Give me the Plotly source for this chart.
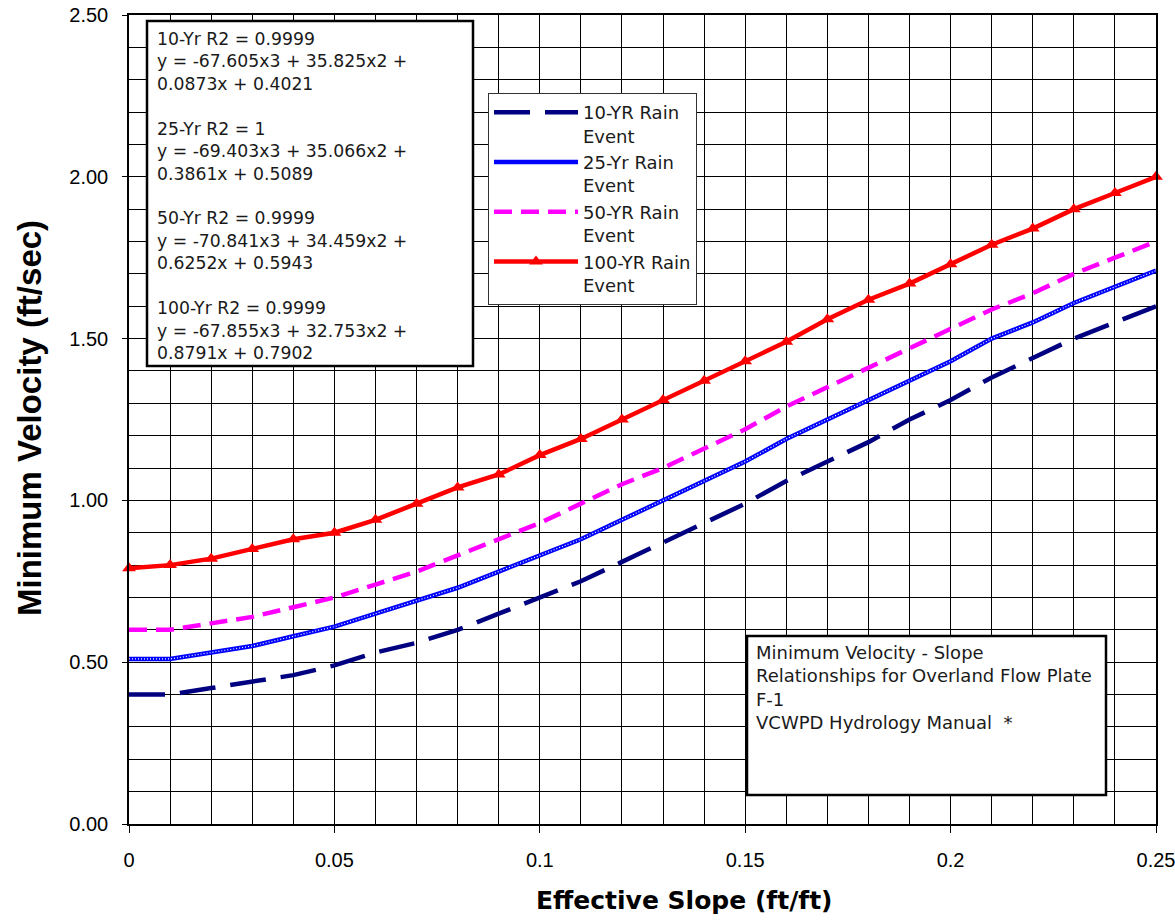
import plotly.graph_objects as go

# ---------------- data ----------------
slope = [0.00, 0.01, 0.02, 0.03, 0.04, 0.05, 0.06, 0.07, 0.08, 0.09, 0.10, 0.11, 0.12,
         0.13, 0.14, 0.15, 0.16, 0.17, 0.18, 0.19, 0.20, 0.21, 0.22, 0.23, 0.24, 0.25]
v10 = [0.40, 0.40, 0.42, 0.44, 0.46, 0.49, 0.53, 0.56, 0.60, 0.65, 0.70, 0.75, 0.81,
       0.87, 0.93, 0.99, 1.06, 1.12, 1.18, 1.25, 1.31, 1.38, 1.44, 1.50, 1.55, 1.60]
v25 = [0.51, 0.51, 0.53, 0.55, 0.58, 0.61, 0.65, 0.69, 0.73, 0.78, 0.83, 0.88, 0.94,
       1.00, 1.06, 1.12, 1.19, 1.25, 1.31, 1.37, 1.43, 1.50, 1.55, 1.61, 1.66, 1.71]
v50 = [0.60, 0.60, 0.62, 0.64, 0.67, 0.70, 0.74, 0.78, 0.83, 0.88, 0.93, 0.99, 1.05,
       1.10, 1.16, 1.22, 1.29, 1.35, 1.41, 1.47, 1.53, 1.59, 1.64, 1.70, 1.75, 1.80]
v100 = [0.79, 0.80, 0.82, 0.85, 0.88, 0.90, 0.94, 0.99, 1.04, 1.08, 1.14, 1.19, 1.25,
        1.31, 1.37, 1.43, 1.49, 1.56, 1.62, 1.67, 1.73, 1.79, 1.84, 1.90, 1.95, 2.00]

series_names = ["10-YR Rain<br>Event", "25-Yr Rain<br>Event",
                "50-YR Rain<br>Event", "100-YR Rain<br>Event"]

x_tick_vals = [0, 0.05, 0.10, 0.15, 0.20, 0.25]
x_tick_text = ["0", "0.05", "0.1", "0.15", "0.2", "0.25"]
y_tick_vals = [0.0, 0.5, 1.0, 1.5, 2.0, 2.5]

fit_text = ("10-Yr R2 = 0.9999<br>y = -67.605x3 + 35.825x2 +<br>0.0873x + 0.4021<br> <br>"
            "25-Yr R2 = 1<br>y = -69.403x3 + 35.066x2 +<br>0.3861x + 0.5089<br> <br>"
            "50-Yr R2 = 0.9999<br>y = -70.841x3 + 34.459x2 +<br>0.6252x + 0.5943<br> <br>"
            "100-Yr R2 = 0.9999<br>y = -67.855x3 + 32.753x2 +<br>0.8791x + 0.7902")
note_text = ("Minimum Velocity - Slope<br>Relationships for Overland Flow Plate<br>"
             "F-1<br>VCWPD Hydrology Manual  *")

# ---------------- layout geometry ----------------
W, H = 1175, 920
L, R, T, B = 129, 19, 15, 96
PW, PH = W - L - R, H - T - B


def px(x):
    return (x - L) / PW


def py(y):
    return (H - B - y) / PH


TXT = "DejaVu Sans"

fig = go.Figure()

fig.add_trace(go.Scatter(x=slope, y=v10, name=series_names[0], mode="lines",
                         line=dict(color="#000080", width=4.5, dash="36px,15px"),
                         cliponaxis=False))
fig.add_trace(go.Scatter(x=slope, y=v25, name=series_names[1], mode="lines",
                         line=dict(color="#0000FF", width=4.5), cliponaxis=False))
fig.add_trace(go.Scatter(x=slope, y=v25, name="25-Yr pattern", mode="lines",
                         line=dict(color="white", width=1.2, dash="1px,2px"),
                         showlegend=False, hoverinfo="skip", cliponaxis=False))
fig.add_trace(go.Scatter(x=slope, y=v50, name=series_names[2], mode="lines",
                         line=dict(color="#FF00FF", width=4.5, dash="18px,9px"),
                         cliponaxis=False))
fig.add_trace(go.Scatter(x=slope, y=v100, name=series_names[3], mode="lines+markers",
                         line=dict(color="#FF0000", width=4.5),
                         marker=dict(symbol="triangle-up", size=12, color="#FF0000"),
                         cliponaxis=False))

axis_common = dict(showline=True, linecolor="black", linewidth=1.5, mirror=True,
                   showgrid=True, gridcolor="black", gridwidth=1, zeroline=False,
                   ticks="outside", tickcolor="black", automargin=False,
                   ticklabeloverflow="allow",
                   tickfont=dict(family="Arial", size=20, color="black"))

fig.update_xaxes(range=[0, 0.25], tickvals=x_tick_vals, ticktext=x_tick_text,
                 ticklen=7, ticklabelstandoff=10,
                 minor=dict(dtick=0.01, showgrid=True, gridcolor="black", gridwidth=1),
                 **axis_common)
fig.update_yaxes(range=[0, 2.5], tickvals=y_tick_vals, tickformat=".2f",
                 ticklen=5, ticklabelstandoff=10,
                 minor=dict(dtick=0.1, showgrid=True, gridcolor="black", gridwidth=1),
                 **axis_common)

# text boxes
fig.add_shape(type="rect", xref="paper", yref="paper",
              x0=px(147), x1=px(473), y0=py(366), y1=py(21),
              line=dict(color="black", width=2.5), fillcolor="white", layer="above")
fig.add_shape(type="rect", xref="paper", yref="paper",
              x0=px(747), x1=px(1106), y0=py(795), y1=py(636),
              line=dict(color="black", width=2.5), fillcolor="white", layer="above")

annotations = [
    dict(text=fit_text, x=px(155), y=py(27), xanchor="left", yanchor="top",
         align="left", font=dict(family=TXT, size=17.25, color="#1a1a1a")),
    dict(text=note_text, x=px(754), y=py(640), xanchor="left", yanchor="top",
         align="left", font=dict(family=TXT, size=18, color="#1a1a1a")),
    dict(text="<b>Effective Slope (ft/ft)</b>", x=px(684), y=py(901),
         xanchor="center", yanchor="middle",
         font=dict(family=TXT, size=25, color="black")),
    dict(text="<b>Minimum Velocity (ft/sec)</b>", x=px(29), y=py(418), textangle=-90,
         xanchor="center", yanchor="middle",
         font=dict(family="Arial", size=33, color="black")),
]
for a in annotations:
    a.update(xref="paper", yref="paper", showarrow=False)

fig.update_layout(
    width=W, height=H,
    margin=dict(l=L, r=R, t=T, b=B, autoexpand=False),
    paper_bgcolor="white", plot_bgcolor="white",
    annotations=annotations,
    showlegend=True,
    legend=dict(x=px(488), y=py(93), xanchor="left", yanchor="top",
                bgcolor="white", bordercolor="#333333", borderwidth=1,
                font=dict(family=TXT, size=18, color="#1a1a1a"),
                itemwidth=84, valign="top", tracegroupgap=0),
)

fig.write_html("out.html", config={"displayModeBar": False},
               post_script="document.body.style.margin='0px';")
